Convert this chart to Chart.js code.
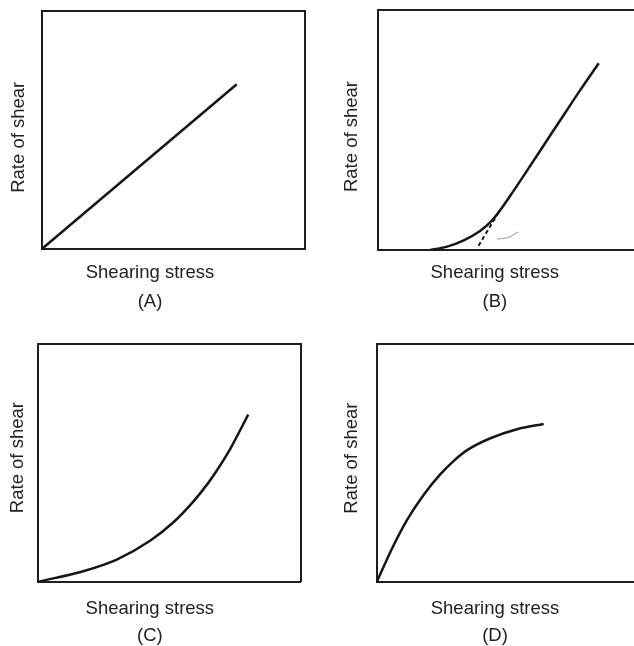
<!DOCTYPE html>
<html>
<head>
<meta charset="utf-8">
<script src="https://cdn.jsdelivr.net/npm/chart.js@4.4.1/dist/chart.umd.min.js"></script>
<style>
  html, body { margin: 0; padding: 0; background: #fff; }
  body { position: relative; width: 634px; height: 646px; overflow: hidden; }
  canvas { position: absolute; }
</style>
</head>
<body>
<canvas id="panelA"></canvas>
<canvas id="panelB"></canvas>
<canvas id="panelC"></canvas>
<canvas id="panelD"></canvas>
<script>
const xTitle = "Shearing stress";
const yTitle = "Rate of shear";
const letters = ["(A)", "(B)", "(C)", "(D)"];

// (A) newtonian - straight line through origin
const stressA = [0, 74.1];
const rateA = [0, 69.1];

// (B) plastic flow, with dashed extrapolation to the yield value
const stressB = [18.9, 25, 31, 37, 41, 43.6, 47.8, 52.7, 57.5, 62.3, 67.7, 73.1, 79.8];
const rateB = [0, 1.4, 4.0, 8.0, 12.0, 15.7, 22.6, 31.0, 39.4, 47.8, 57.2, 66.6, 77.8];
const stressBYield = [43.6, 35.8];
const rateBYield = [15.7, 0.7];
const stressBMark = [43.0, 47.2, 50.9];
const rateBMark = [4.5, 5.3, 7.6];

// (C) dilatant
const stressC = [0, 17.1, 29.9, 42.6, 51.4, 57.8, 62.3, 66.7, 73.1, 80.0];
const rateC = [0, 4.4, 9.3, 17.2, 24.9, 32.1, 38.0, 44.6, 55.8, 70.3];

// (D) pseudoplastic
const stressD = [0, 5.5, 10.9, 16.9, 22.9, 27.8, 32.6, 41.0, 50.6, 60.2];
const rateD = [0, 14.0, 26.0, 36.6, 45.2, 50.9, 55.4, 60.4, 64.2, 66.4];

const ink = "#161616";
const fontFamily = "'Liberation Sans', Arial, sans-serif";
const fontSize = 18.5;

function pts(xs, ys) {
  return xs.map((x, i) => ({ x: x, y: ys[i] }));
}

function curve(xs, ys) {
  return {
    data: pts(xs, ys),
    borderColor: ink,
    borderWidth: 2.5,
    pointRadius: 0,
    fill: false,
    cubicInterpolationMode: "monotone",
    xAxisID: "x",
    yAxisID: "y",
  };
}

function edgeAxis(position, extra) {
  return Object.assign({
    type: "linear",
    position: position,
    min: 0,
    max: 100,
    ticks: { display: false },
    grid: { display: false, drawTicks: false },
    border: { display: true, color: "#1e1e1e", width: 2 },
  }, extra || {});
}

// g: where the box, the axis label and the caption sit in the page
function makePanel(id, letter, datasets, g) {
  const lhY = fontSize * 1.2;
  const sTop = g.line1Y - g.boxB - g.lineGap / 2;
  const sBottom = 4;
  const bottomEdge = g.boxB + sTop + 2 * g.lineGap + sBottom;

  const ox = Math.round(2 * g.textX - g.boxR);
  const innerW = g.boxR - ox;
  const W = Math.ceil(innerW + 3);
  const oy = Math.round(2 * g.labelY - bottomEdge);
  const innerH = bottomEdge - oy;
  const H = Math.ceil(innerH + 1);
  const topSpace = g.boxT - oy;

  const tTop = g.labelX - ox - lhY / 2;
  const tBottom = g.boxL - ox - lhY - tTop;

  const canvas = document.getElementById(id);
  canvas.width = W;
  canvas.height = H;
  canvas.style.left = ox + "px";
  canvas.style.top = oy + "px";

  new Chart(canvas.getContext("2d"), {
    type: "line",
    data: { datasets: datasets },
    options: {
      responsive: false,
      animation: false,
      layout: { padding: { left: 0, top: 0, right: W - innerW, bottom: H - innerH } },
      scales: {
        x: edgeAxis("bottom"),
        x2: edgeAxis("top", { afterFit: (s) => { s.height = topSpace; } }),
        y: edgeAxis("left"),
        y2: edgeAxis("right"),
      },
      plugins: {
        legend: { display: false },
        tooltip: { enabled: false },
        title: {
          display: true,
          position: "left",
          text: yTitle,
          color: "#222",
          font: { family: fontFamily, size: fontSize, weight: "normal", lineHeight: 1.2 },
          padding: { top: tTop, bottom: tBottom },
        },
        subtitle: {
          display: true,
          position: "bottom",
          text: [xTitle, letter],
          color: "#222",
          font: { family: fontFamily, size: fontSize, weight: "normal", lineHeight: g.lineGap / fontSize },
          padding: { top: sTop, bottom: sBottom },
        },
      },
    },
  });
}

makePanel("panelA", letters[0], [curve(stressA, rateA)],
  { labelX: 18.8, labelY: 137, boxL: 41.5, boxR: 305, boxT: 10.5, boxB: 249.3, textX: 150, line1Y: 273, lineGap: 29 });

makePanel("panelB", letters[1], [
    curve(stressB, rateB),
    Object.assign(curve(stressBYield, rateBYield), { borderWidth: 2, borderDash: [4, 3] }),
    Object.assign(curve(stressBMark, rateBMark), { borderWidth: 1.3, borderColor: "#b0b0b0" }),
  ],
  { labelX: 352, labelY: 136.7, boxL: 378, boxR: 654.6, boxT: 10, boxB: 250, textX: 494.8, line1Y: 272.5, lineGap: 29 });

makePanel("panelC", letters[2], [curve(stressC, rateC)],
  { labelX: 18.3, labelY: 457.7, boxL: 38.3, boxR: 300.7, boxT: 344, boxB: 581.7, textX: 150, line1Y: 608.7, lineGap: 27 });

makePanel("panelD", letters[3], [curve(stressD, rateD)],
  { labelX: 352, labelY: 458, boxL: 376.7, boxR: 654, boxT: 344, boxB: 582, textX: 494.8, line1Y: 608.7, lineGap: 27 });
</script>
</body>
</html>
